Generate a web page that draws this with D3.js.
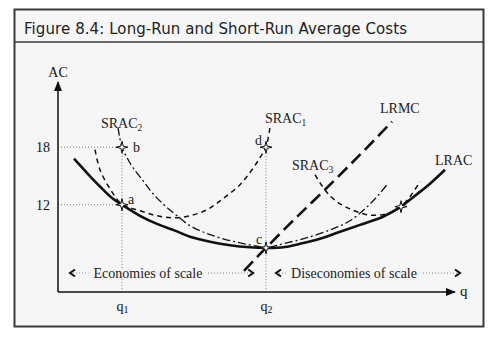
<!DOCTYPE html>
<html><head><meta charset="utf-8">
<script src="https://cdn.jsdelivr.net/npm/d3@7"></script>
<style>body{margin:0;background:#fff}svg{display:block}</style>
</head><body>
<svg id="c" width="500" height="339"></svg>
<script>
const title = "Figure 8.4: Long-Run and Short-Run Average Costs";
const yTicks = [12, 18];
const xTicks = [16, 52];
const xTickSubs = ["1", "2"];

const lracQ  = [4, 7.5, 10.5, 13.5, 16, 20.5, 24.75, 29.25, 33, 38, 43, 48, 52, 56.75, 60.5, 65.5, 70.5, 75.5, 81.25, 85.75, 89.25, 93, 96.75];
const lracAC = [16.8, 15.2, 13.9, 12.7, 12.0, 10.85, 10.0, 9.3, 8.66, 8.14, 7.77, 7.56, 7.5, 7.6, 7.93, 8.45, 9.18, 9.9, 10.75, 11.8, 12.94, 14.2, 15.65];

const srac1Q  = [9.25, 10.5, 13, 16, 20.5, 24.75, 28.75, 33, 37.25, 41.25, 45.5, 48.5, 50.5, 52, 53];
const srac1AC = [17.74, 15.65, 13.67, 12.05, 11.37, 10.85, 10.64, 10.85, 11.48, 12.63, 14.09, 15.65, 16.91, 18, 20.1];

const srac2Q  = [15, 16, 17.25, 18.75, 21.25, 23.75, 26.75, 29.75, 33, 36.75, 41.25, 45.5, 49.75, 52, 56.25, 62.25, 68.75, 73, 76.75, 79.75, 82.25];
const srac2AC = [20.04, 18, 16.91, 15.86, 14.51, 13.15, 11.9, 10.85, 9.81, 9.08, 8.45, 8.03, 7.67, 7.5, 7.93, 8.56, 9.49, 10.33, 11.58, 12.84, 14.09];

const srac3Q  = [64.25, 66, 68, 70.5, 73.5, 77.25, 81.25, 84, 85.75, 88, 90.5];
const srac3AC = [15.13, 13.98, 12.94, 12.1, 11.48, 10.96, 10.96, 11.37, 11.8, 12.84, 14.4];

const lrmcQ  = [46.5, 52, 59.25, 66.75, 75.5, 83.5];
const lrmcAC = [5.11, 7.5, 10.54, 13.57, 17.22, 20.66];

const pointNames = ["a", "b", "c", "d", ""];
const pointQ  = [16, 16, 52, 52, 85.75];
const pointAC = [12, 18, 7.5, 18, 11.8];

const svg = d3.select("#c");
const bg = "#f6f6f6";

// frame
svg.append("rect").attr("x", 14.5).attr("y", 9.5).attr("width", 469).attr("height", 317)
  .attr("fill", bg).attr("stroke", "#3a3a3a").attr("stroke-width", 2);
svg.append("line").attr("x1", 14.5).attr("x2", 483.5).attr("y1", 42).attr("y2", 42)
  .attr("stroke", "#3a3a3a").attr("stroke-width", 1.5);
svg.append("text").attr("x", 24).attr("y", 34).text(title)
  .attr("font-family", "Verdana, 'DejaVu Sans', sans-serif").attr("font-size", 15).attr("fill", "#222")
  .attr("textLength", 383).attr("lengthAdjust", "spacing");

const x = d3.scaleLinear().domain([0, 99.25]).range([58, 455]);
const y = d3.scaleLinear().domain([2.9, 24.8]).range([292, 82]);
const serif = "'Liberation Serif', 'Times New Roman', serif";
const ink = "#111";

// guides
const g = svg.append("g").attr("stroke", "#777").attr("stroke-dasharray", "1,2").attr("stroke-width", 1);
[[0, 18, 16, 18], [0, 12, 16, 12], [16, 18, 16, 2.9], [52, 18, 52, 2.9]].forEach(d => {
  g.append("line").attr("x1", x(d[0])).attr("y1", y(d[1])).attr("x2", x(d[2])).attr("y2", y(d[3]));
});

// axes (labels via d3 axes)
const yAxis = svg.append("g").attr("transform", `translate(${x(0)},0)`)
  .call(d3.axisLeft(y).tickValues(yTicks).tickSize(0).tickPadding(8));
yAxis.select(".domain").remove();
yAxis.selectAll("text").attr("font-family", serif).attr("font-size", 14).attr("fill", ink);

const xAxis = svg.append("g").attr("transform", `translate(0,${y(2.9)})`)
  .call(d3.axisBottom(x).tickValues(xTicks).tickSize(0).tickPadding(9).tickFormat(() => ""));
xAxis.select(".domain").remove();
xAxis.selectAll("text").each(function(d, i) {
  const t = d3.select(this).attr("font-family", serif).attr("font-size", 14).attr("fill", ink);
  t.append("tspan").text("q");
  t.append("tspan").attr("font-size", 10).attr("dy", 2).text(xTickSubs[i]);
});

svg.append("defs").html(`<marker id="ah" viewBox="0 0 10 10" refX="9" refY="5" markerWidth="10" markerHeight="10" markerUnits="userSpaceOnUse" orient="auto"><path d="M0,1 L10,5 L0,9 z" fill="#111"/></marker>`);
svg.append("line").attr("x1", x(0)).attr("y1", y(2.9)).attr("x2", x(0)).attr("y2", y(24.8))
  .attr("stroke", ink).attr("stroke-width", 1.5).attr("marker-end", "url(#ah)");
svg.append("line").attr("x1", x(0)).attr("y1", y(2.9)).attr("x2", x(99.25)).attr("y2", y(2.9))
  .attr("stroke", ink).attr("stroke-width", 1.5).attr("marker-end", "url(#ah)");
svg.append("text").attr("x", x(0)).attr("y", 77).attr("text-anchor", "middle").text("AC")
  .attr("font-family", serif).attr("font-size", 14).attr("fill", ink);
svg.append("text").attr("x", 460).attr("y", 296).text("q")
  .attr("font-family", serif).attr("font-size", 15).attr("fill", ink);

// curves
const line = d3.line().x(d => x(d[0])).y(d => y(d[1])).curve(d3.curveCatmullRom.alpha(0.5));
const zip = (a, b) => a.map((v, i) => [v, b[i]]);
function draw(q, ac, w, dash) {
  svg.append("path").attr("d", line(zip(q, ac))).attr("fill", "none").attr("stroke", ink)
    .attr("stroke-width", w).attr("stroke-dasharray", dash);
}
draw(srac1Q, srac1AC, 1.5, "5,4");
draw(srac3Q, srac3AC, 1.5, "5,4");
draw(srac2Q, srac2AC, 1.3, "8,3,2,3");
draw(lracQ, lracAC, 2.6, null);
draw(lrmcQ, lrmcAC, 2.6, "13,6");

// stars
const r1 = 6, r2 = 1.6;
const star = d3.range(8).map(i => {
  const a = i * Math.PI / 4 - Math.PI / 2, r = i % 2 ? r2 : r1;
  return [r * Math.cos(a), r * Math.sin(a)];
});
const starPath = "M" + star.map(p => p.join(",")).join("L") + "Z";
pointQ.forEach((q, i) => {
  svg.append("path").attr("d", starPath).attr("transform", `translate(${x(q)},${y(pointAC[i])})`)
    .attr("fill", "#fff").attr("stroke", ink).attr("stroke-width", 1);
});

// text labels
function label(txt, sub, px, py, anchor) {
  const t = svg.append("text").attr("x", px).attr("y", py).attr("text-anchor", anchor || "start")
    .attr("font-family", serif).attr("font-size", 14).attr("fill", "#222");
  t.append("tspan").text(txt);
  if (sub) t.append("tspan").attr("font-size", 9.5).attr("dy", 3).text(sub);
}
label("SRAC", "2", 101, 128);
label("SRAC", "1", 265, 123);
label("SRAC", "3", 292, 170);
label("LRMC", null, 380, 113);
label("LRAC", null, 435, 165);
label("a", null, 128, 204);
label("b", null, 133, 152);
label("c", null, 256, 244);
label("d", null, 255, 145);

// economies annotations
function span(q0, q1, ac, txt, qc) {
  const yy = y(ac);
  svg.append("line").attr("x1", x(q0)).attr("x2", x(q1)).attr("y1", yy).attr("y2", yy)
    .attr("stroke", "#888").attr("stroke-dasharray", "1,2");
  const t = svg.append("text").attr("x", x(qc)).attr("y", yy + 5).attr("text-anchor", "middle")
    .attr("font-family", serif).attr("font-size", 14).attr("fill", "#222").text(txt);
  const bb = t.node().getBBox();
  svg.insert("rect", () => t.node()).attr("x", bb.x - 5).attr("y", yy - 3).attr("width", bb.width + 10)
    .attr("height", 6).attr("fill", bg);
  const ch = (px, dir) => svg.append("path")
    .attr("d", `M${px + dir * 5},${yy - 3.5} L${px},${yy} L${px + dir * 5},${yy + 3.5}`)
    .attr("fill", "none").attr("stroke", ink).attr("stroke-width", 2);
  ch(x(q0), 1); ch(x(q1), -1);
}
span(3, 48.8, 4.88, "Economies of scale", 22.5);
span(54.5, 100.5, 4.88, "Diseconomies of scale", 74);
</script>
</body></html>
